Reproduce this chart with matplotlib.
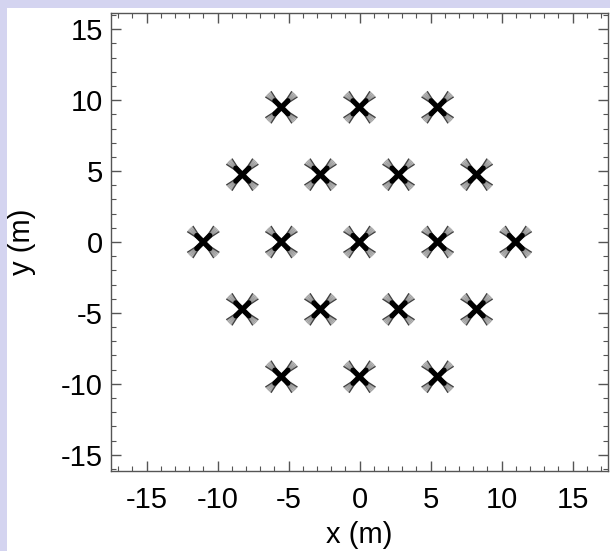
import numpy as np
import matplotlib
matplotlib.use('Agg')
from matplotlib import pyplot as plt
from matplotlib.patches import Rectangle

plt.rcParams['font.family'] = ['Liberation Sans', 'DejaVu Sans']
plt.rcParams['axes.unicode_minus'] = False

# antenna positions (m), hexagonal layout
station_x = [-5.5, 0.0, 5.5,
             -8.25, -2.75, 2.75, 8.25,
             -11.0, -5.5, 0.0, 5.5, 11.0,
             -8.25, -2.75, 2.75, 8.25,
             -5.5, 0.0, 5.5]
station_y = [9.5, 9.5, 9.5,
             4.75, 4.75, 4.75, 4.75,
             0.0, 0.0, 0.0, 0.0, 0.0,
             -4.75, -4.75, -4.75, -4.75,
             -9.5, -9.5, -9.5]

fig = plt.figure(figsize=(6.10, 5.51), dpi=100)
fig.patch.set_facecolor('#d4d4f0')
# white panel behind the plot
fig.add_artist(Rectangle((7 / 610, 0), 1, 1 - 8 / 551, transform=fig.transFigure,
                         facecolor='white', edgecolor='none', zorder=0))

ax = fig.add_axes([111 / 610, 80 / 551, 497 / 610, 458 / 551])
ax.set_facecolor('white')

# each antenna: four arms, each arm a small fan of wires
arm_len = 1.35
for x0, y0 in zip(station_x, station_y):
    for base in (45, 135, 225, 315):
        for da in np.linspace(-12, 12, 7):
            a = np.radians(base + da)
            edge = abs(da) > 11
            ax.plot([x0, x0 + arm_len * np.cos(a)], [y0, y0 + arm_len * np.sin(a)],
                    color='#202020' if edge else '#606060',
                    lw=1.0 if edge else 0.8, alpha=0.85 if edge else 0.6,
                    solid_capstyle='butt')
        a = np.radians(base)
        ax.plot([x0, x0 + 0.65 * np.cos(a)], [y0, y0 + 0.65 * np.sin(a)],
                color='black', lw=3.8, solid_capstyle='round')

ax.set_xlim(-17.5, 17.5)
ax.set_ylim(-16.15, 16.15)
ax.set_xticks(np.arange(-15, 16, 5))
ax.set_yticks(np.arange(-15, 16, 5))
ax.set_xticks(np.arange(-17, 18, 1), minor=True)
ax.set_yticks(np.arange(-16, 17, 1), minor=True)
ax.tick_params(which='both', direction='in', top=True, right=True,
               color='#555555', labelsize=21)
ax.tick_params(axis='x', which='major', pad=11)
ax.tick_params(axis='y', which='major', pad=6)
ax.tick_params(which='major', length=7, width=1)
ax.tick_params(which='minor', length=3.5, width=0.8)
for s in ax.spines.values():
    s.set_color('#555555')
    s.set_linewidth(1)

ax.set_xlabel('x (m)', fontsize=21, labelpad=5)
ax.set_ylabel('y (m)', fontsize=21, labelpad=18)

fig.savefig('out.png', dpi=100, facecolor=fig.get_facecolor())
